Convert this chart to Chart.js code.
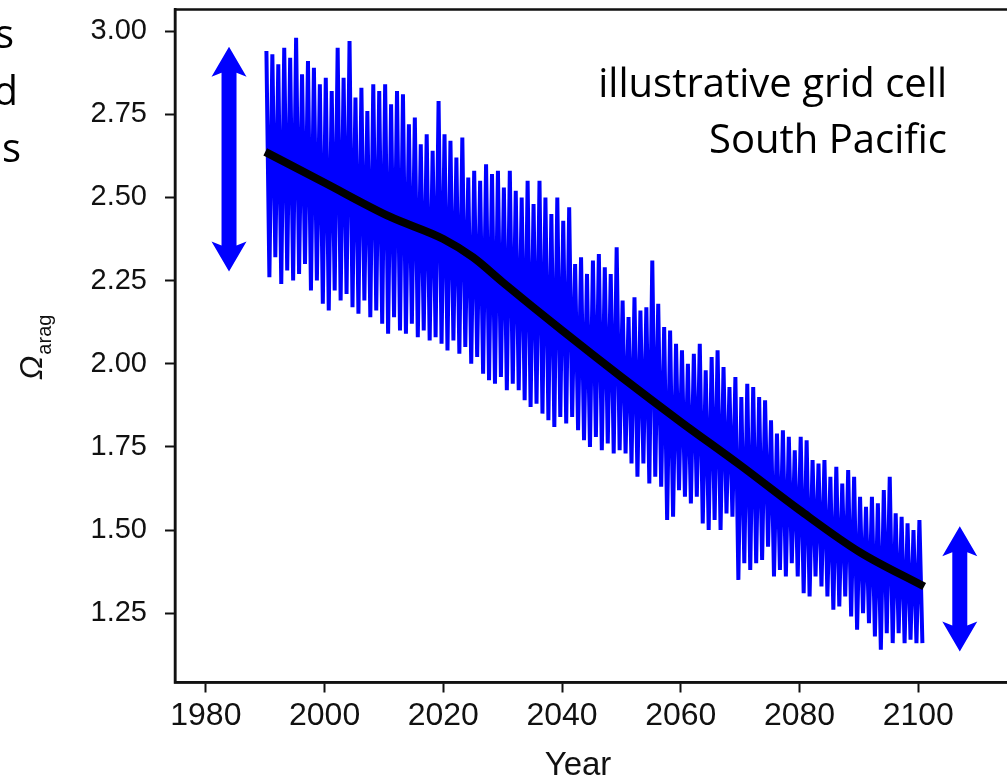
<!DOCTYPE html>
<html>
<head>
<meta charset="utf-8">
<script src="https://cdn.jsdelivr.net/npm/chart.js@4.4.1/dist/chart.umd.min.js"></script>
<style>
  html, body { margin: 0; padding: 0; background: #fff; overflow: hidden; }
  #wrap { width: 1022px; height: 777px; }
</style>
</head>
<body>
<div id="wrap"><canvas id="chart-canvas" width="1022" height="777"></canvas></div>
<script>
// yearly seasonal high / low of the monthly series
const years = [];
for (let y = 1990; y <= 2100; y++) years.push(y);

const seasonalHigh = [
  2.94, 2.93, 2.90, 2.95, 2.92, 2.98, 2.87, 2.91, 2.89, 2.84,
  2.86, 2.82, 2.95, 2.86, 2.97, 2.80, 2.83, 2.76, 2.84, 2.82,
  2.84, 2.78, 2.82, 2.81, 2.72, 2.74, 2.66, 2.69, 2.64, 2.79,
  2.69, 2.67, 2.62, 2.68, 2.56, 2.58, 2.55, 2.60, 2.57, 2.58,
  2.53, 2.58, 2.52, 2.50, 2.55, 2.48, 2.55, 2.50, 2.45, 2.50,
  2.43, 2.47, 2.30, 2.32, 2.27, 2.31, 2.33, 2.29, 2.27, 2.35,
  2.19, 2.14, 2.20, 2.16, 2.17, 2.31, 2.18, 2.11, 2.10, 2.06,
  2.04, 2.00, 2.03, 2.06, 1.98, 2.02, 2.04, 1.99, 1.93, 1.96,
  1.90, 1.94, 1.93, 1.90, 1.89, 1.83, 1.79, 1.80, 1.78, 1.74,
  1.78, 1.77, 1.71, 1.70, 1.71, 1.66, 1.69, 1.64, 1.68, 1.66,
  1.60, 1.57, 1.60, 1.58, 1.62, 1.66, 1.55, 1.54, 1.52, 1.50,
  1.53
];

const seasonalLow = [
  2.26, 2.32, 2.24, 2.28, 2.25, 2.27, 2.30, 2.22, 2.25, 2.18,
  2.16, 2.22, 2.19, 2.21, 2.17, 2.15, 2.19, 2.14, 2.16, 2.12,
  2.09, 2.14, 2.10, 2.09, 2.12, 2.08, 2.10, 2.07, 2.08, 2.06,
  2.04, 2.07, 2.03, 2.05, 2.00, 2.02, 1.97, 1.95, 1.94, 1.96,
  1.92, 1.94, 1.92, 1.89, 1.87, 1.88, 1.85, 1.83, 1.81, 1.84,
  1.82, 1.84, 1.80, 1.77, 1.75, 1.78, 1.74, 1.76, 1.73, 1.74,
  1.73, 1.70, 1.66, 1.70, 1.64, 1.66, 1.63, 1.53, 1.54, 1.62,
  1.60, 1.58, 1.60, 1.52, 1.50, 1.53, 1.50, 1.55, 1.54, 1.35,
  1.40, 1.38, 1.40, 1.41, 1.45, 1.36, 1.38, 1.36, 1.40, 1.36,
  1.31, 1.30, 1.36, 1.33, 1.30, 1.26, 1.27, 1.30, 1.24, 1.20,
  1.25, 1.22, 1.18, 1.14, 1.19, 1.16, 1.19, 1.16, 1.17, 1.16,
  1.16
];

// smooth trend (black line)
const trendYears  = [1990, 2000, 2011, 2020, 2025, 2030, 2040, 2050, 2060, 2070, 2080, 2090, 2101];
const trendValues = [2.637, 2.544, 2.442, 2.375, 2.32, 2.245, 2.10, 1.96, 1.825, 1.695, 1.56, 1.435, 1.33];

// double arrows showing the seasonal range
const arrowYears  = [1983.9, 2107.0];
const arrowTop    = [2.953, 1.511];
const arrowBottom = [2.277, 1.135];

const xTicks = [1980, 2000, 2020, 2040, 2060, 2080, 2100];
const yTicks = [1.25, 1.50, 1.75, 2.00, 2.25, 2.50, 2.75, 3.00];

const blueData = [];
years.forEach((yr, i) => {
  blueData.push({ x: yr + 0.2, y: seasonalHigh[i] });
  blueData.push({ x: yr + 0.7, y: seasonalLow[i] });
});
const trendData = trendYears.map((yr, i) => ({ x: yr, y: trendValues[i] }));

const BLUE = '#0000ff';

const extras = {
  id: 'extras',
  afterDatasetsDraw(chart) {
    const { ctx, chartArea, scales } = chart;
    const xs = scales.x, ys = scales.y;
    ctx.save();
    // arrows
    ctx.fillStyle = BLUE;
    arrowYears.forEach((yr, i) => {
      const cx = xs.getPixelForValue(yr);
      const top = ys.getPixelForValue(arrowTop[i]);
      const bot = ys.getPixelForValue(arrowBottom[i]);
      const hw = 17.5, sw = 7.5, hl = 30;
      ctx.beginPath();
      ctx.moveTo(cx, top);
      ctx.lineTo(cx + hw, top + hl);
      ctx.lineTo(cx + sw, top + hl - 4);
      ctx.lineTo(cx + sw, bot - hl + 4);
      ctx.lineTo(cx + hw, bot - hl);
      ctx.lineTo(cx, bot);
      ctx.lineTo(cx - hw, bot - hl);
      ctx.lineTo(cx - sw, bot - hl + 4);
      ctx.lineTo(cx - sw, top + hl - 4);
      ctx.lineTo(cx - hw, top + hl);
      ctx.closePath();
      ctx.fill();
    });
    // frame
    ctx.strokeStyle = '#111';
    ctx.lineWidth = 2.5;
    ctx.strokeRect(chartArea.left, chartArea.top, chartArea.right - chartArea.left, chartArea.bottom - chartArea.top);
    ctx.restore();
  },
  afterDraw(chart) {
    const { ctx } = chart;
    ctx.save();
    ctx.fillStyle = '#000';
    // annotation, sized to the width it has in the picture
    ctx.font = '40px "Open Sans"';
    const fit = Math.min(40, 40 * 366 / ctx.measureText('illustrative grid cell').width);
    ctx.font = fit.toFixed(1) + 'px "Open Sans"';
    ctx.textAlign = 'right';
    ctx.textBaseline = 'alphabetic';
    ctx.fillText('illustrative grid cell', 947, 97);
    ctx.fillText('South Pacific', 947, 153);
    // cut-off slide text on the left
    ctx.font = '40px "Open Sans"';
    ctx.fillText('s', 14, 48);
    ctx.fillText('d', 18, 105);
    ctx.fillText('es', 21, 162);
    // x title
    ctx.font = '33px "Liberation Sans"';
    ctx.textAlign = 'center';
    ctx.fillStyle = '#111';
    ctx.fillText('Year', 578, 775);
    // y title: Omega with subscript, rotated
    ctx.translate(42, 380);
    ctx.rotate(-Math.PI / 2);
    ctx.textAlign = 'left';
    ctx.font = 'italic 32px "Liberation Sans"';
    ctx.fillText('\u03A9', 0, 0);
    const w = ctx.measureText('\u03A9').width;
    ctx.font = '20px "Liberation Sans"';
    ctx.fillText('arag', w + 1, 9);
    ctx.restore();
  }
};

const chartContext = document.getElementById('chart-canvas').getContext('2d');

const omegaChart = new Chart(chartContext, {
  type: 'line',
  data: {
    datasets: [{
      data: blueData,
      borderColor: BLUE,
      borderWidth: 4,
      borderJoinStyle: 'miter',
      pointRadius: 0,
      tension: 0,
      order: 2
    }, {
      data: trendData,
      borderColor: '#000',
      borderWidth: 8,
      pointRadius: 0,
      cubicInterpolationMode: 'monotone',
      order: 1
    }]
  },
  options: {
    responsive: false,
    animation: false,
    devicePixelRatio: 1,
    layout: { padding: { top: 9.5, right: 7, bottom: 0, left: 0 } },
    plugins: { legend: { display: false }, tooltip: { enabled: false } },
    scales: {
      x: {
        type: 'linear',
        min: 1974.8,
        max: 2116.3,
        afterBuildTicks: axis => { axis.ticks = xTicks.map(v => ({ value: v })); },
        afterFit: axis => {
          axis.height = 94.5;
          axis.paddingLeft = 0; axis.paddingRight = 0;
        },
        ticks: {
          color: '#111',
          font: { family: 'Liberation Sans', size: 32 },
          padding: 4,
          maxRotation: 0,
          callback: v => String(v)
        },
        grid: { drawOnChartArea: false, drawTicks: true, tickLength: 10, tickWidth: 2, tickColor: '#111' },
        border: { color: '#111', width: 2.5 }
      },
      y: {
        min: 1.0415,
        max: 3.065,
        afterBuildTicks: axis => { axis.ticks = yTicks.map(v => ({ value: v })); },
        afterFit: axis => {
          axis.width = 175;
          axis.paddingTop = 0; axis.paddingBottom = 0;
        },
        ticks: {
          color: '#111',
          font: { family: 'Liberation Sans', size: 29 },
          padding: 18,
          callback: v => v.toFixed(2)
        },
        grid: { drawOnChartArea: false, drawTicks: true, tickLength: 10, tickWidth: 2, tickColor: '#111' },
        border: { color: '#111', width: 2.5 }
      }
    }
  },
  plugins: [extras]
});
</script>
</body>
</html>
